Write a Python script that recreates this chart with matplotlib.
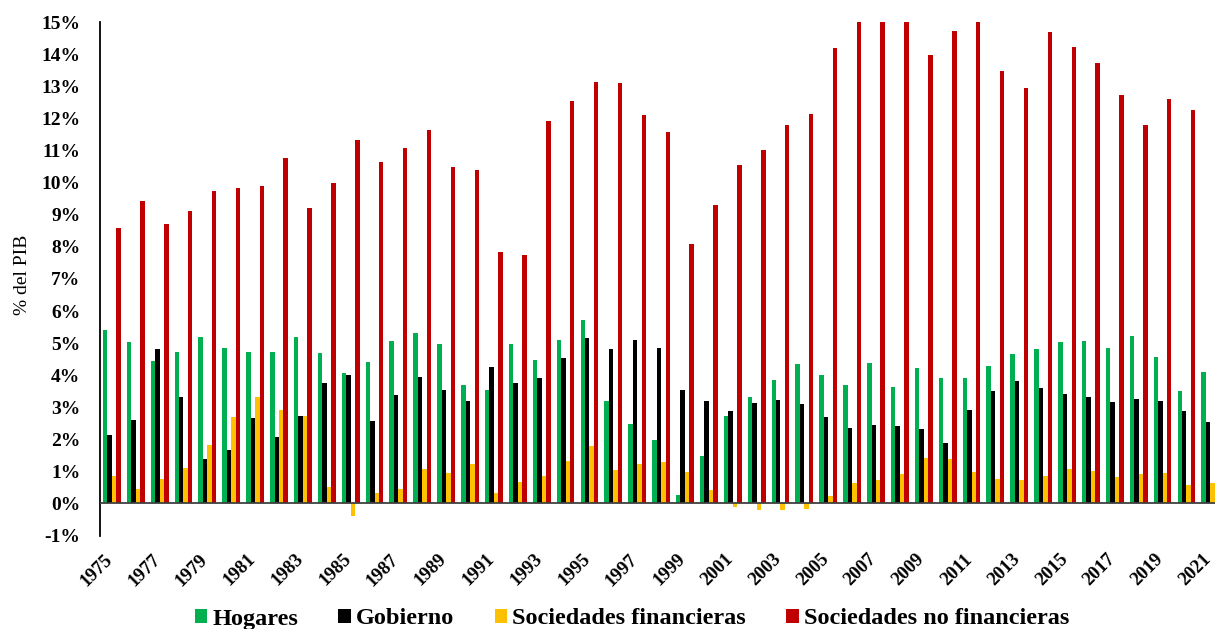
import matplotlib
matplotlib.use("Agg")
import matplotlib.pyplot as plt
import matplotlib.transforms as mtransforms
from matplotlib.ticker import FuncFormatter, MultipleLocator
import numpy as np

years = list(range(1975, 2022))

hogares = [5.42, 5.03, 4.45, 4.71, 5.19, 4.85, 4.73, 4.73, 5.18, 4.70,
           4.06, 4.42, 5.07, 5.31, 4.98, 3.70, 3.53, 4.98, 4.48, 5.09,
           5.72, 3.18, 2.48, 1.97, 0.26, 1.48, 2.72, 3.33, 3.86, 4.36,
           4.02, 3.69, 4.38, 3.63, 4.23, 3.90, 3.91, 4.30, 4.67, 4.82,
           5.04, 5.08, 4.86, 5.21, 4.58, 3.52, 4.11]

gobierno = [2.13, 2.61, 4.81, 3.33, 1.40, 1.67, 2.65, 2.08, 2.73, 3.76,
            4.02, 2.58, 3.38, 3.94, 3.54, 3.19, 4.26, 3.75, 3.91, 4.53,
            5.15, 4.81, 5.09, 4.86, 3.54, 3.21, 2.88, 3.13, 3.24, 3.10,
            2.71, 2.34, 2.45, 2.40, 2.32, 1.87, 2.91, 3.50, 3.81, 3.60,
            3.41, 3.32, 3.17, 3.25, 3.21, 2.87, 2.54]

soc_financieras = [0.86, 0.45, 0.76, 1.11, 1.83, 2.70, 3.33, 2.92, 2.74, 0.51,
                   -0.38, 0.34, 0.44, 1.08, 0.95, 1.23, 0.31, 0.68, 0.86, 1.32,
                   1.80, 1.04, 1.23, 1.29, 0.98, 0.43, -0.11, -0.21, -0.22, -0.16,
                   0.23, 0.63, 0.73, 0.92, 1.42, 1.39, 0.98, 0.77, 0.72, 0.85,
                   1.08, 1.00, 0.82, 0.92, 0.95, 0.57, 0.64]

soc_no_financieras = [8.58, 9.44, 8.73, 9.13, 9.73, 9.84, 9.91, 10.76, 9.23, 10.00,
                      11.32, 10.66, 11.08, 11.64, 10.50, 10.41, 7.85, 7.76, 11.93, 12.54,
                      13.15, 13.12, 12.10, 11.60, 8.08, 9.31, 10.54, 11.01, 11.80, 12.15,
                      14.21, 15.00, 15.00, 15.00, 14.00, 14.72, 15.00, 13.50, 12.96, 14.71,
                      14.23, 13.75, 12.73, 11.81, 12.62, 12.28, 12.44]

series = [
    ("Hogares", hogares, "#00B050"),
    ("Gobierno", gobierno, "#000000"),
    ("Sociedades financieras", soc_financieras, "#FFC000"),
    ("Sociedades no financieras", soc_no_financieras, "#C00000"),
]

plt.rcParams["font.family"] = ["Liberation Serif", "DejaVu Serif"]

W, H = 1215, 629
fig = plt.figure(figsize=(W / 100, H / 100), dpi=100)

left_px, top_px, bottom_px = 99.9, 22.5, 535.5
year_px = 23.88
ax = fig.add_axes([left_px / W, 1 - bottom_px / H,
                   len(years) * year_px / W, (bottom_px - top_px) / H])

x = np.arange(len(years))
bw = 0.187
for i, (name, vals, col) in enumerate(series):
    ax.bar(x + (i - 1.5) * bw, vals, width=bw, color=col, label=name,
           linewidth=0, zorder=2)

ax.set_xlim(-0.5, len(years) - 0.5)
ax.set_ylim(-1, 15)
ax.yaxis.set_major_locator(MultipleLocator(1))
ax.yaxis.set_major_formatter(FuncFormatter(lambda v, p: f"{v:.0f}%"))

ax.axhline(0, color="#404040", linewidth=1.3, zorder=3)
for s in ["top", "right", "bottom"]:
    ax.spines[s].set_visible(False)
ax.spines["left"].set_linewidth(1.3)
ax.spines["left"].set_color("#000000")

ax.tick_params(axis="y", length=0, pad=14, labelsize=14)
for lbl in ax.get_yticklabels():
    lbl.set_fontweight("bold")

tick_idx = [i for i, y in enumerate(years) if (y - 1975) % 2 == 0]
ax.set_xticks(tick_idx)
ax.set_xticklabels([str(years[i]) for i in tick_idx], rotation=45, ha="right",
                   fontsize=13.5, fontweight="bold")
ax.tick_params(axis="x", length=0, pad=11)
offset = mtransforms.ScaledTranslation(4 / 100, 0, fig.dpi_scale_trans)
for lbl in ax.get_xticklabels():
    lbl.set_transform(lbl.get_transform() + offset)

fig.text(22.5 / W, 1 - 275 / H, "% del PIB", rotation=90, ha="center",
         va="center", fontsize=14)

fig.legend(loc="center", bbox_to_anchor=(632 / W, 1 - 619 / H), ncol=4,
           frameon=False, prop={"weight": "bold", "size": 17.5},
           handlelength=0.51, handleheight=0.51, handletextpad=0.22,
           columnspacing=1.65, borderaxespad=0, borderpad=0)

fig.savefig("out.png", dpi=100)
